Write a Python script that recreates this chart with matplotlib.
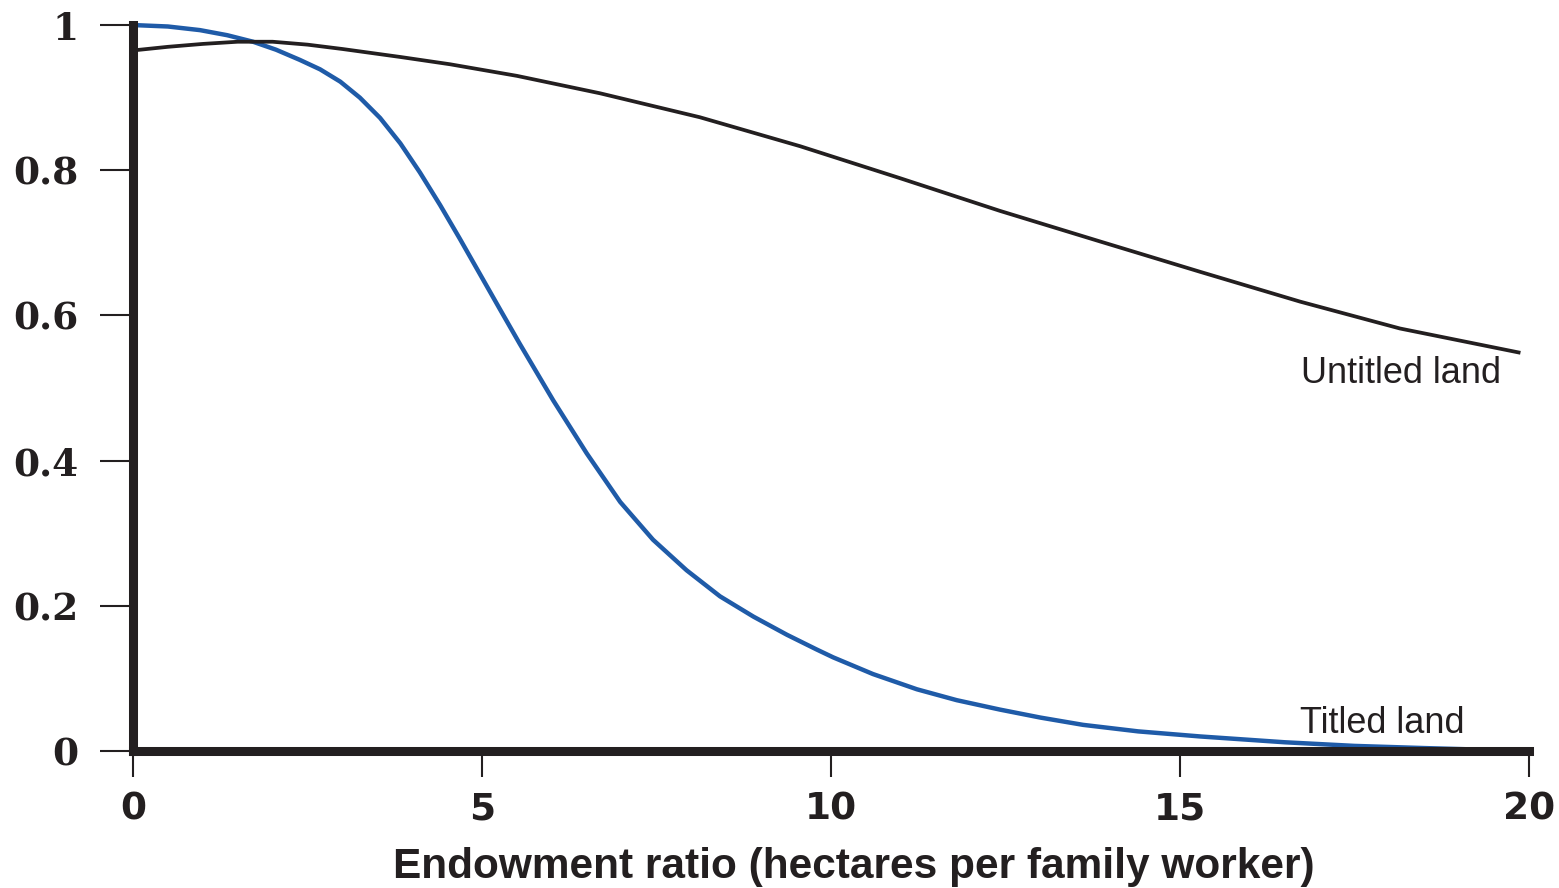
import matplotlib
matplotlib.use("Agg")
import matplotlib.pyplot as plt

# --- Data ---
# Titled land (blue curve)
titled_x = [0, 0.5, 0.96, 1.35, 1.72, 2.05, 2.39, 2.68, 2.97, 3.25, 3.54, 3.83,
            4.11, 4.40, 4.68, 4.97, 5.26, 5.54, 5.78, 6.02, 6.50, 6.98, 7.45,
            7.93, 8.41, 8.89, 9.37, 9.79, 10.03, 10.6, 11.23, 11.8, 12.42, 13.0,
            13.61, 14.4, 15.29, 16.5, 17.5, 18.5, 20]
titled_y = [1.000, 0.998, 0.993, 0.986, 0.977, 0.966, 0.952, 0.939, 0.922, 0.900,
            0.872, 0.837, 0.797, 0.752, 0.706, 0.657, 0.608, 0.561, 0.522, 0.483,
            0.410, 0.343, 0.291, 0.249, 0.213, 0.185, 0.160, 0.140, 0.129, 0.106,
            0.085, 0.070, 0.057, 0.046, 0.036, 0.027, 0.020, 0.012, 0.007, 0.004,
            0.0]

# Untitled land (black curve)
untitled_x = [0, 0.5, 1.0, 1.5, 2.0, 2.5, 3.0, 3.83, 4.54, 5.5, 6.69, 8.12, 9.56,
              10.99, 12.42, 13.85, 15.29, 16.72, 18.15, 19.85]
untitled_y = [0.965, 0.970, 0.974, 0.977, 0.977, 0.973, 0.967, 0.956, 0.946, 0.930,
              0.906, 0.873, 0.833, 0.789, 0.744, 0.702, 0.660, 0.619, 0.582, 0.549]

x_ticks = [0, 5, 10, 15, 20]
y_ticks = [0, 0.2, 0.4, 0.6, 0.8, 1]
y_tick_labels = ["0", "0.2", "0.4", "0.6", "0.8", "1"]

ink = "#231f20"
blue = "#1f5ba8"

# --- Figure ---
fig = plt.figure(figsize=(15.59, 8.88), dpi=100)
ax = fig.add_axes([0.0853, 0.1543, 0.8955, 0.8175])

ax.plot(titled_x, titled_y, color=blue, lw=3.2, clip_on=False, zorder=2,
        solid_joinstyle="round", solid_capstyle="round")
ax.plot(untitled_x, untitled_y, color=ink, lw=2.7, clip_on=False, zorder=2,
        solid_joinstyle="round")

ax.set_xlim(0, 20)
ax.set_ylim(0, 1)

for side in ["top", "right"]:
    ax.spines[side].set_visible(False)
for side in ["left", "bottom"]:
    ax.spines[side].set_linewidth(6.5)
    ax.spines[side].set_color(ink)
    ax.spines[side].set_zorder(3)

ax.set_xticks(x_ticks)
ax.set_xticklabels([str(t) for t in x_ticks], fontsize=27, fontweight="bold",
                   family="DejaVu Sans", color=ink)
ax.set_yticks(y_ticks)
ax.set_yticklabels(y_tick_labels, fontsize=27, fontweight="bold",
                   family="DejaVu Serif", color=ink)
ax.tick_params(axis="x", length=19, width=1.5, color=ink, pad=10)
ax.tick_params(axis="y", length=24, width=1.5, color=ink, pad=15)

ax.set_xlabel("Endowment ratio (hectares per family worker)", fontsize=30.5,
              fontweight="bold", family="Liberation Sans",
              color=ink, labelpad=14)
ax.xaxis.label.set_x(0.516)

ax.text(16.73, 0.507, "Untitled land", fontsize=26, family="Liberation Sans",
        color=ink, va="baseline", ha="left")
ax.text(16.72, 0.025, "Titled land", fontsize=26, family="Liberation Sans",
        color=ink, va="baseline", ha="left")

plt.savefig("out.png", dpi=100)
